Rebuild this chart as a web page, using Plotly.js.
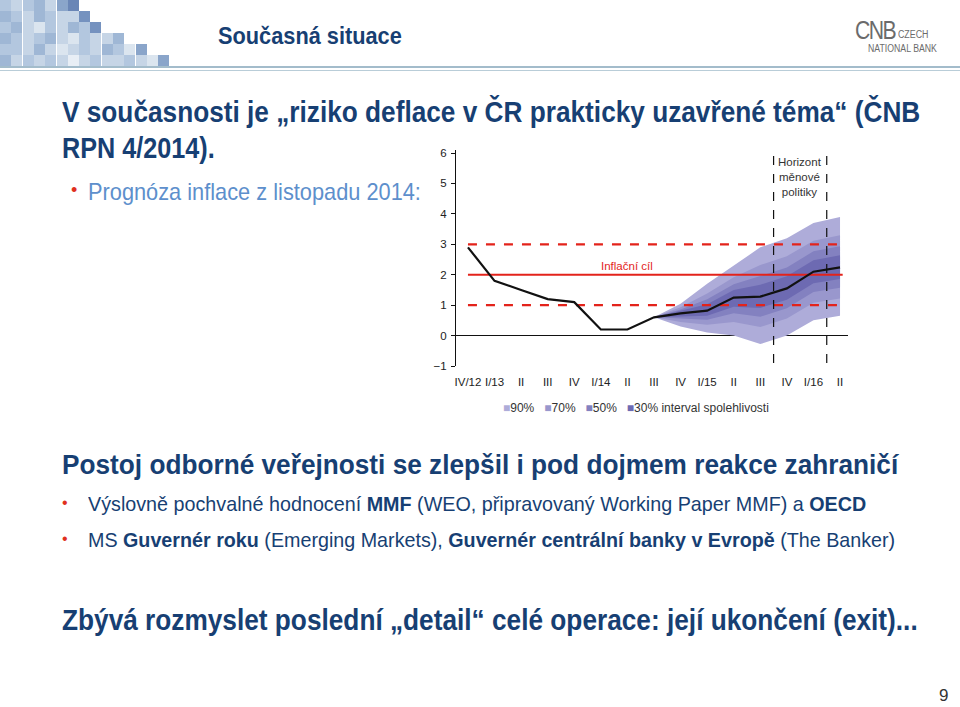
<!DOCTYPE html>
<html>
<head>
<meta charset="utf-8">
<script src="https://cdn.plot.ly/plotly-3.0.1.min.js"></script>
<style>
  body { margin: 0; background: #fff; }
  #slide { position: relative; width: 960px; height: 707px; overflow: hidden; background: #fff;
           font-family: "Liberation Sans", Arial, sans-serif; }
  .t { position: absolute; white-space: nowrap; color: #173f73; transform-origin: 0 50%; }
  .b { font-weight: bold; }
  .bullet { position: absolute; color: #e0301e; font-family: "Liberation Sans", Arial, sans-serif; }
  #mosaic { position: absolute; left: 0; top: 0; }
  #mosaic div { position: absolute; width: 11px; height: 11px; }
  .rule1 { position: absolute; left: 0; top: 66px; width: 960px; height: 2px; background: #a3bccb; }
  .rule2 { position: absolute; left: 0; top: 70px; width: 960px; height: 1px; background: #b9cdd8; }
  #chart { position: absolute; left: 430px; top: 140px; width: 420px; height: 280px; }
</style>
</head>
<body>
<div id="slide">
  <div id="mosaic"></div>
  <div class="rule1"></div>
  <div class="rule2"></div>

  <div class="t b" data-w="184" style="left:218px; top:22px; font-size:24px;">Současná situace</div>

  <div class="t" data-w="40" style="left:855px; top:20px; font-size:26px; line-height:20px; color:#6b6b6b; letter-spacing:-2px;">CNB</div>
  <div class="t" data-w="30" style="left:898px; top:30px; font-size:10px; line-height:9px; color:#6b6b6b;">CZECH</div>
  <div class="t" data-w="69" style="left:868px; top:44px; font-size:10px; line-height:9px; color:#6b6b6b;">NATIONAL BANK</div>

  <div class="t b" data-w="858" style="left:62px; top:96px; font-size:29px;">V současnosti je „riziko deflace v ČR prakticky uzavřené téma“ (ČNB</div>
  <div class="t b" data-w="153" style="left:62px; top:132px; font-size:29px;">RPN 4/2014).</div>

  <div class="bullet" style="left:71px; top:180px; font-size:18px;">•</div>
  <div class="t" data-w="333" style="left:88px; top:178px; font-size:24px; color:#5d8fcc;">Prognóza inflace z listopadu 2014:</div>

  <div id="chart"></div>

  <div class="t b" data-w="836" style="left:62px; top:450px; font-size:27px;">Postoj odborné veřejnosti se zlepšil i pod dojmem reakce zahraničí</div>

  <div class="bullet" style="left:62px; top:494px; font-size:16px;">•</div>
  <div class="t" data-w="778" style="left:88px; top:492px; font-size:21px;">Výslovně pochvalné hodnocení <b>MMF</b> (WEO, připravovaný Working Paper MMF) a <b>OECD</b></div>
  <div class="bullet" style="left:62px; top:530px; font-size:16px;">•</div>
  <div class="t" data-w="807" style="left:88px; top:528px; font-size:21px;">MS <b>Guvernér roku</b> (Emerging Markets), <b>Guvernér centrální banky v Evropě</b> (The Banker)</div>

  <div class="t b" data-w="856" style="left:62px; top:603px; font-size:30px;">Zbývá rozmyslet poslední „detail“ celé operace: její ukončení (exit)...</div>

  <div class="t" style="left:939px; top:686px; font-size:17px; color:#333;">9</div>
</div>

<script>
// quarters on the x axis
const quarters = ["IV/12", "I/13", "II", "III", "IV", "I/14", "II", "III", "IV", "I/15", "II", "III", "IV", "I/16", "II"];

// observed inflation IV/12 .. III/14
const actual = [2.9, 1.8, 1.5, 1.2, 1.1, 0.2, 0.2, 0.6];

// forecast III/14 .. II/16 (median + fan bands)
const forecastStart = 7;
const forecast = [0.6, 0.73, 0.82, 1.25, 1.28, 1.55, 2.1, 2.24];
const upper90 = [0.6, 1.05, 1.7, 2.3, 2.9, 3.2, 3.7, 3.9];
const lower90 = [0.6, 0.3, 0.1, 0.0, -0.28, 0.0, 0.5, 0.65];
const upper70 = [0.6, 0.93, 1.38, 1.92, 2.32, 2.61, 3.12, 3.3];
const lower70 = [0.6, 0.45, 0.36, 0.45, 0.28, 0.56, 1.08, 1.22];
const upper50 = [0.6, 0.86, 1.19, 1.69, 1.96, 2.24, 2.77, 2.94];
const lower50 = [0.6, 0.55, 0.52, 0.73, 0.62, 0.9, 1.43, 1.57];
const upper30 = [0.6, 0.81, 1.03, 1.5, 1.67, 1.95, 2.48, 2.64];
const lower30 = [0.6, 0.63, 0.65, 0.95, 0.91, 1.18, 1.72, 1.86];

// inflation target and tolerance band
const targetLevels = [1, 2, 3];
const horizonBounds = [11.5, 13.5];

const bandNames = ["90%", "70%", "50%", "30%"];
const bandColors = ["#aeacd9", "#9997cd", "#8381c0", "#6d6ab2"];

function fitTexts() {
    // squeeze regular Arial metrics to the narrow face used on the slide
    document.querySelectorAll(".t[data-w]").forEach((node) => {
        const natural = node.scrollWidth;
        const target = Number(node.dataset.w);
        if (natural > 0) node.style.transform = `scaleX(${target / natural})`;
    });
}

function buildMosaic() {
    // hand picked tile pattern of the header decoration
    const palette = { a: "#dbe5ef", b: "#c6d5e6", c: "#b3c7df", d: "#9fb7d5", e: "#8aa5ca", f: "#7592bf", g: "#6a86b6", h: "#e8eef5" };
    const rows = [
        "cbcdbeg",
        "dcbdcbbf",
        "cdbacbdcf",
        "dcbcdbacbbd",
        "ccbdbabcbdcae",
        "dbcbcbhbcbbcbae"
    ];
    const host = document.getElementById("mosaic");
    rows.forEach((row, r) => {
        [...row].forEach((key, c) => {
            const tile = document.createElement("div");
            tile.style.left = `${c * 11.3}px`;
            tile.style.top = `${r * 11}px`;
            tile.style.background = palette[key];
            host.appendChild(tile);
        });
    });
}

function renderChart() {
    const fx = forecast.map((_, i) => i + forecastStart);
    const traces = [];

    const bands = [[lower90, upper90], [lower70, upper70], [lower50, upper50], [lower30, upper30]];
    bands.forEach(([lo, hi], i) => {
        traces.push({ x: fx, y: lo, type: "scatter", mode: "lines", line: { width: 0 }, hoverinfo: "skip", showlegend: false });
        traces.push({ x: fx, y: hi, type: "scatter", mode: "lines", fill: "tonexty", fillcolor: bandColors[i], line: { width: 0 }, name: bandNames[i], showlegend: false });
    });

    targetLevels.forEach((level) => {
        traces.push({
            x: [0, 14.1], y: [level, level], type: "scatter", mode: "lines",
            line: { color: "#e3231b", width: 2.2, dash: level === 2 ? "solid" : "dash" },
            hoverinfo: "skip", showlegend: false
        });
    });

    const lineX = actual.map((_, i) => i).concat(fx.slice(1));
    const lineY = actual.concat(forecast.slice(1));
    traces.push({ x: lineX, y: lineY, type: "scatter", mode: "lines", line: { color: "#111", width: 2.2 }, showlegend: false });

    const legendText = bandNames.map((n, i) => `<span style="color:${bandColors[i]}">■</span>${n}`).join("&nbsp;&nbsp;&nbsp;") + " interval spolehlivosti";

    const layout = {
        width: 420, height: 280,
        margin: { l: 26, r: 2, t: 10, b: 54 },
        paper_bgcolor: "#fff", plot_bgcolor: "#fff",
        font: { family: "Liberation Sans, Arial, sans-serif", size: 11, color: "#222" },
        showlegend: false,
        xaxis: {
            range: [-0.45, 14.3], tickvals: quarters.map((_, i) => i), ticktext: quarters,
            showgrid: false, zeroline: false, showline: false, ticks: "", ticklabelstandoff: 7, tickfont: { size: 11.5 }
        },
        yaxis: {
            range: [-1, 6.1], dtick: 1, showgrid: false, showline: true, linecolor: "#111", linewidth: 1,
            ticks: "outside", ticklen: 4, tickcolor: "#111", zeroline: true, zerolinecolor: "#111", zerolinewidth: 1,
            tickfont: { size: 11.5 }, ticklabelstandoff: 2, exponentformat: "none"
        },
        shapes: horizonBounds.map((x) => ({
            type: "line", xref: "x", yref: "y", x0: x, x1: x, y0: -0.9, y1: 5.95,
            line: { color: "#111", width: 1.2, dash: "dash" }
        })),
        annotations: [
            { x: 12.5, y: 5.2, xref: "x", yref: "y", text: "Horizont<br>měnové<br>politiky", showarrow: false, font: { size: 11.5, color: "#333" } },
            { x: 6.0, y: 2.3, xref: "x", yref: "y", text: "Inflační cíl", showarrow: false, font: { size: 11.5, color: "#e3231b" } },
            { x: 0.46, y: -0.235, xref: "paper", yref: "paper", text: legendText, showarrow: false, font: { size: 12, color: "#333" } }
        ]
    };

    Plotly.newPlot(document.getElementById("chart"), traces, layout, { displayModeBar: false, staticPlot: true });
}

buildMosaic();
fitTexts();
renderChart();
</script>
</body>
</html>
